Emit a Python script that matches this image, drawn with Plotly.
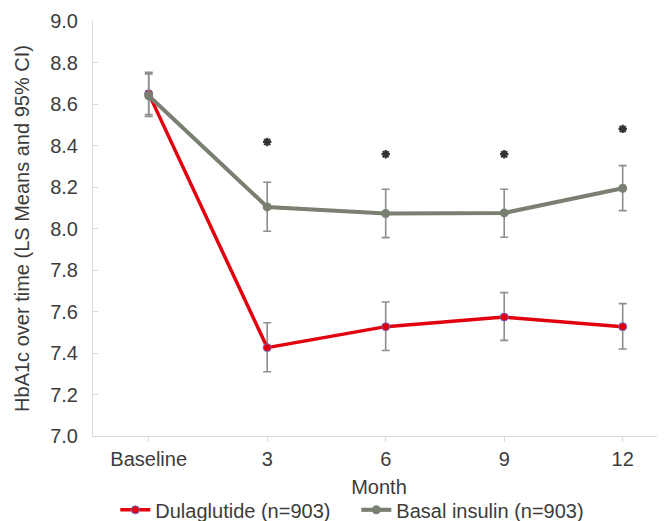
import plotly.graph_objects as go

categories = ["Baseline", "3", "6", "9", "12"]
x_pos = [0, 1, 2, 3, 4]

dula_mean = [8.65, 7.426, 7.527, 7.573, 7.527]
dula_upper = [8.753, 7.546, 7.646, 7.691, 7.638]
dula_lower = [8.549, 7.310, 7.412, 7.461, 7.419]

basal_mean = [8.64, 8.104, 8.072, 8.075, 8.194]
basal_upper = [8.745, 8.223, 8.189, 8.189, 8.303]
basal_lower = [8.540, 7.987, 7.956, 7.958, 8.086]

star_x = [1, 2, 3, 4]
star_y = [8.417, 8.358, 8.358, 8.48]

y_ticks = [7.0, 7.2, 7.4, 7.6, 7.8, 8.0, 8.2, 8.4, 8.6, 8.8, 9.0]

FONT = "Liberation Sans, Arial, sans-serif"
TXT = "#3c3c3c"
FS = 20

def err(mean, up, lo):
    return dict(type="data", symmetric=False,
                array=[u - m for u, m in zip(up, mean)],
                arrayminus=[m - l for m, l in zip(mean, lo)],
                color="#8e8e8e", thickness=1.6, width=4)

fig = go.Figure()
fig.add_trace(go.Scatter(
    x=x_pos, y=dula_mean, mode="lines+markers", name="Dulaglutide (n=903)",
    line=dict(color="#e2000f", width=3.5),
    marker=dict(color="#e2000f", size=8, line=dict(color="#6f6fc8", width=1)),
    error_y=err(dula_mean, dula_upper, dula_lower)))
fig.add_trace(go.Scatter(
    x=x_pos, y=basal_mean, mode="lines+markers", name="Basal insulin (n=903)",
    line=dict(color="#7a8071", width=4),
    marker=dict(color="#7a8071", size=9),
    error_y=err(basal_mean, basal_upper, basal_lower)))
fig.add_trace(go.Scatter(
    x=star_x, y=star_y, mode="markers", showlegend=False, hoverinfo="skip",
    marker=dict(symbol="asterisk-open", size=7, color="#333333",
                line=dict(color="#333333", width=2.2))))

# page body has an 8px margin; figure is sized to fit inside the 665x521 window
fig.update_layout(
    width=657, height=513,
    margin=dict(l=85, r=0, t=13, b=85, autoexpand=False),
    paper_bgcolor="white", plot_bgcolor="white",
    font=dict(family=FONT, size=FS, color=TXT),
    showlegend=True,
    legend=dict(orientation="h", x=0.039, y=-0.178, xanchor="left", yanchor="middle",
                font=dict(size=FS, color=TXT), itemwidth=30, entrywidth=196,
                bgcolor="rgba(0,0,0,0)", tracegroupgap=0),
    xaxis=dict(range=[-0.47, 4.357], tickmode="array", tickvals=x_pos,
               ticktext=categories, showgrid=False, zeroline=False,
               showline=True, linecolor="#d9d9d9", linewidth=1,
               ticks="outside", ticklen=5, tickcolor="#d9d9d9",
               tickfont=dict(size=FS, color=TXT), automargin=False,
               title=dict(text="Month", font=dict(size=FS, color=TXT), standoff=10)),
    yaxis=dict(range=[7.0, 9.0], tickmode="array", tickvals=y_ticks,
               ticktext=[f"{v:.1f}" for v in y_ticks], showgrid=False, zeroline=False,
               showline=True, linecolor="#d9d9d9", linewidth=1,
               ticks="inside", ticklen=5, tickcolor="#d9d9d9",
               ticklabelstandoff=10, automargin=False,
               tickfont=dict(size=FS, color=TXT),
               title=dict(text="HbA1c over time (LS Means and 95% CI)",
                          font=dict(size=FS, color=TXT), standoff=15)),
)

fig.write_html("out.html")
